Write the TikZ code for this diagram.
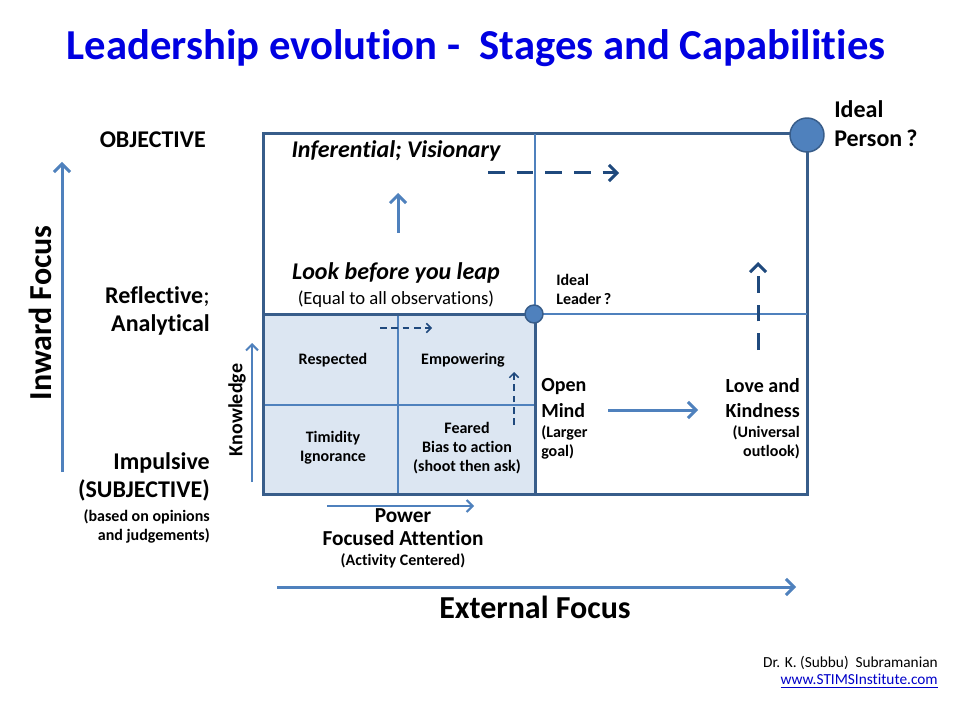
\documentclass[tikz,border=0pt]{standalone}
\usepackage{fontspec}
\setmainfont[Ligatures={NoCommon}]{Carlito}
\usetikzlibrary{arrows.meta, positioning}
\definecolor{titleblue}{RGB}{0,0,225}
\definecolor{axisblue}{RGB}{79,129,189}
\definecolor{frameblue}{RGB}{56,93,138}
\definecolor{dashblue}{RGB}{31,73,125}
\definecolor{cellfill}{RGB}{220,230,242}
\definecolor{urlblue}{RGB}{0,0,200}
\newcommand{\ptsize}[2]{\fontsize{#1}{#2}\selectfont}
\tikzstyle{lbl} = [inner sep=0pt, align=right, font=\ptsize{18}{21.5}\bfseries]
\tikzstyle{cell} = [inner sep=0pt, align=center, font=\ptsize{12}{14.2}\bfseries]
\tikzstyle{note} = [inner sep=0pt, font=\ptsize{12}{14.2}\bfseries]
\tikzstyle{frame} = [line width=2.25pt, draw=frameblue]
\tikzstyle{divider} = [line width=1.2pt, draw=axisblue]
\tikzstyle{dot} = [circle, draw=frameblue, line width=1.1pt, fill=axisblue, inner sep=0pt]
\tikzstyle{axis} = [line width=2.25pt, draw=axisblue, -{Straight Barb[length=6pt, width=12pt]}]
\tikzstyle{thinaxis} = [line width=1.5pt, draw=axisblue, -{Straight Barb[length=4.5pt, width=9pt]}]
\tikzstyle{dasharrow} = [line width=2.25pt, draw=dashblue, dash pattern=on 12.5pt off 9pt,
  -{Straight Barb[length=6pt, width=12pt]}]
\tikzstyle{smalldash} = [line width=1.1pt, draw=dashblue, dash pattern=on 5pt off 3.5pt,
  -{Straight Barb[length=3.5pt, width=7pt]}]

\begin{document}
\begin{tikzpicture}[x=0.75pt, y=-0.75pt]
    \useasboundingbox[fill=white] (0,0) rectangle (960,720);
    \node[inner sep=0pt, text=titleblue, font=\ptsize{32}{38}\bfseries] (title) at (476,48)
      {Leadership evolution -\ \ Stages and Capabilities};

    % grid of stages
    \draw[frame] (263,134) rectangle (807,494);
    \draw[divider] (535,134) -- (535,494);
    \draw[divider] (535,314) -- (807,314);
    \draw[frame, fill=cellfill] (263,314) rectangle (535,494);
    \draw[divider] (398,314) -- (398,494);
    \draw[divider] (263,405) -- (535,405);
    \draw[frame] (263,314) rectangle (535,494);
    \node[dot, minimum size=13.5pt] (leader) at (534,314) {};
    \node[dot, minimum size=25.5pt] (person) at (807,135) {};

    % inward axis
    \coordinate (inlow) at (62,472);
    \coordinate (inhigh) at (62,162);
    \draw[axis] (inlow) -- (inhigh);
    \node[inner sep=0pt, rotate=90, font=\ptsize{24}{28}\bfseries] (inward) at (40,313) {Inward Focus};
    \node[lbl, anchor=east] (objective) at (206,140) {OBJECTIVE};
    \node[lbl, anchor=east] (reflective) at (210,311) {Reflective{\mdseries;}\\Analytical};
    \node[lbl, anchor=east] (impulsive) at (210,477) {Impulsive\\(SUBJECTIVE)};
    \node[note, align=right, anchor=east] (opinions) at (210,526) {(based on opinions\\and judgements)};

    % upper left quadrant
    \node[inner sep=0pt, font=\ptsize{18}{21}\bfseries\itshape] (visionary) at (396,151) {Inferential; Visionary};
    \node[inner sep=0pt, font=\ptsize{18}{21}\bfseries\itshape] (leap) at (396,273) {Look before you leap};
    \node[inner sep=0pt, font=\ptsize{14}{17}] (equal) at (396,299) {(Equal to all observations)};
    \coordinate (uplow) at (398,233);
    \coordinate (uphigh) at (398,193);
    \draw[axis] (uplow) -- (uphigh);
    \coordinate (toplft) at (488,173);
    \coordinate (toprgt) at (619,173);
    \draw[dasharrow] (toplft) -- (toprgt);

    % right side
    \node[lbl, align=left, anchor=west] (idealperson) at (834,124) {Ideal\\Person\,?};
    \node[note, align=left, anchor=west] (idealleader) at (556,289) {Ideal\\Leader\,?};
    \coordinate (rgtlow) at (758,350);
    \coordinate (rgthigh) at (758,262);
    \draw[dasharrow] (rgtlow) -- (rgthigh);
    \node[inner sep=0pt, align=left, anchor=west, font=\ptsize{15}{19}\bfseries] (openmind) at (541,398) {Open\\Mind};
    \node[note, align=left, anchor=west] (larger) at (541,442) {(Larger\\goal)};
    \node[inner sep=0pt, align=right, anchor=east, font=\ptsize{15}{19}\bfseries] (love) at (800,398) {Love and\\Kindness};
    \node[note, align=right, anchor=east] (universal) at (800,442) {(Universal\\outlook)};
    \coordinate (mindend) at (608,410);
    \coordinate (loveend) at (698,410);
    \draw[axis] (mindend) -- (loveend);

    % lower left cells
    \node[cell] (respected) at (333,360) {Respected};
    \node[cell] (empowering) at (463,360) {Empowering};
    \node[cell] (timidity) at (333,448) {Timidity\\Ignorance};
    \node[cell] (feared) at (467,448) {Feared\\Bias to action\\(shoot then ask)};
    \coordinate (cellleft) at (380,328);
    \coordinate (cellright) at (432,328);
    \draw[smalldash] (cellleft) -- (cellright);
    \coordinate (celllow) at (514,425);
    \coordinate (cellhigh) at (514,372);
    \draw[smalldash] (celllow) -- (cellhigh);

    % knowledge and power
    \coordinate (knowlow) at (252,482);
    \coordinate (knowhigh) at (252,343);
    \draw[thinaxis] (knowlow) -- (knowhigh);
    \node[inner sep=0pt, rotate=90, font=\ptsize{15}{18}\bfseries] (knowledge) at (237,410) {Knowledge};
    \coordinate (powlow) at (327,506);
    \coordinate (powhigh) at (474,506);
    \draw[thinaxis] (powlow) -- (powhigh);
    \node[inner sep=0pt, font=\ptsize{16}{19}\bfseries] (power) at (403,516) {Power};
    \node[inner sep=0pt, font=\ptsize{16}{19}\bfseries] (focused) at (403,538) {Focused Attention};
    \node[note] (activity) at (403,561) {(Activity Centered)};

    % external axis
    \coordinate (extlow) at (277,587);
    \coordinate (exthigh) at (796,587);
    \draw[axis] (extlow) -- (exthigh);
    \node[inner sep=0pt, font=\ptsize{24}{28}\bfseries] (external) at (535,607) {External Focus};

    % credits
    \node[inner sep=0pt, anchor=east, font=\ptsize{11.5}{14}] (author) at (938,663) {Dr. K. (Subbu)\ \ Subramanian};
    \node[inner sep=0pt, anchor=east, text=urlblue, font=\ptsize{11.5}{14}] (site) at (938,681) {\underline{www.STIMSInstitute.com}};
  \end{tikzpicture}
\end{document}
